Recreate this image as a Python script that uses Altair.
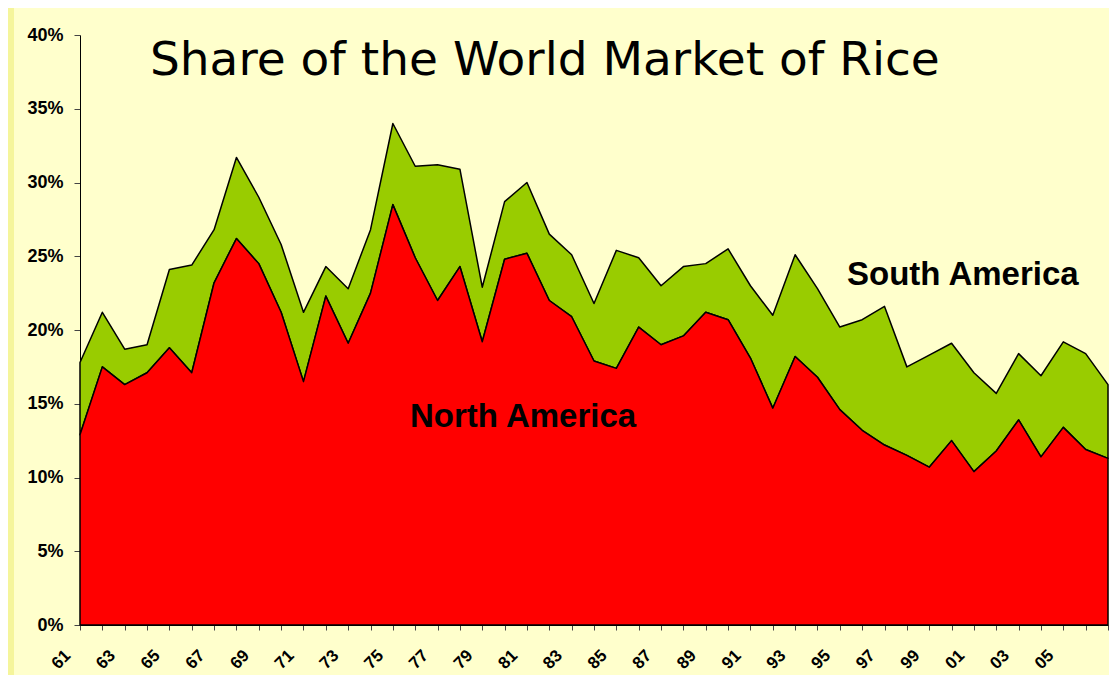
import altair as alt
import pandas as pd

# Data (percent of world rice market)
years = [1961, 1962, 1963, 1964, 1965, 1966, 1967, 1968, 1969, 1970,
         1971, 1972, 1973, 1974, 1975, 1976, 1977, 1978, 1979, 1980,
         1981, 1982, 1983, 1984, 1985, 1986, 1987, 1988, 1989, 1990,
         1991, 1992, 1993, 1994, 1995, 1996, 1997, 1998, 1999, 2000,
         2001, 2002, 2003, 2004, 2005, 2006, 2007]

north_america = [12.9, 17.5, 16.3, 17.1, 18.8, 17.1, 23.2, 26.2, 24.5, 21.2,
                 16.5, 22.3, 19.1, 22.5, 28.5, 24.9, 22.0, 24.3, 19.2, 24.8,
                 25.2, 22.0, 20.9, 17.9, 17.4, 20.2, 19.0, 19.6, 21.2, 20.7,
                 18.1, 14.7, 18.2, 16.8, 14.6, 13.2, 12.2, 11.5, 10.7, 12.5,
                 10.4, 11.8, 13.9, 11.4, 13.4, 11.9, 11.3]

south_america = [4.9, 3.7, 2.4, 1.9, 5.3, 7.3, 3.6, 5.5, 4.5, 4.6,
                 4.7, 2.0, 3.7, 4.3, 5.5, 6.2, 9.2, 6.6, 3.7, 3.9,
                 4.8, 4.5, 4.2, 3.9, 8.0, 4.7, 4.0, 4.7, 3.3, 4.8,
                 4.9, 6.3, 6.9, 6.0, 5.6, 7.5, 9.4, 6.0, 7.6, 6.6,
                 6.7, 3.9, 4.5, 5.5, 5.8, 6.5, 5.0]

# x tick labels (every second year)
label_years = [1961, 1963, 1965, 1967, 1969, 1971, 1973, 1975, 1977, 1979,
               1981, 1983, 1985, 1987, 1989, 1991, 1993, 1995, 1997, 1999,
               2001, 2003, 2005]
label_texts = ["61", "63", "65", "67", "69", "71", "73", "75", "77", "79",
               "81", "83", "85", "87", "89", "91", "93", "95", "97", "99",
               "01", "03", "05"]

y_ticks = [0, 0.05, 0.10, 0.15, 0.20, 0.25, 0.30, 0.35, 0.40]

title_text = "Share of the World Market of Rice"
north_label = "North America"
south_label = "South America"

df = pd.DataFrame({
    "year": years,
    "na": [v / 100 for v in north_america],
})
df["total"] = df["na"] + pd.Series(south_america) / 100

lab_df = pd.DataFrame({"year": label_years, "lab": label_texts})

W, H = 1028, 590

x_scale = alt.Scale(domain=[1961, 2007], nice=False, zero=False)
x_axis = alt.Axis(values=years, title=None, labels=False, tickSize=5)
y_scale = alt.Scale(domain=[0, 0.4], nice=False)
y_axis = alt.Axis(values=y_ticks, format=".0%", title=None, tickSize=6,
                  labelPadding=11, labelFontSize=18)

base = alt.Chart(df)

green = base.mark_area(color="#99CC00", stroke="black", strokeWidth=1.5, strokeJoin="round").encode(
    x=alt.X("year:Q", scale=x_scale, axis=x_axis),
    y=alt.Y("total:Q", scale=y_scale, axis=y_axis),
    y2="na:Q",
)

red = base.mark_area(color="#FF0000", stroke="black", strokeWidth=1.5, strokeJoin="round").encode(
    x=alt.X("year:Q", scale=x_scale, axis=x_axis),
    y=alt.Y("na:Q", scale=y_scale, axis=y_axis),
    y2=alt.datum(0),
)

xlabels = alt.Chart(lab_df).mark_text(
    font="Liberation Sans", fontWeight="bold", fontSize=17, angle=315,
    align="right", baseline="middle", dx=-17, color="black"
).encode(
    x=alt.X("year:Q", scale=x_scale, axis=x_axis),
    y=alt.value(H + 16),
    text="lab:N",
)

strip = alt.Chart(pd.DataFrame({"k": [1]})).mark_rect(color="#F5F59B").encode(
    x=alt.value(-72), x2=alt.value(-66), y=alt.value(-27), y2=alt.value(H + 50)
)

title = alt.Chart(pd.DataFrame({"t": [title_text]})).mark_text(
    font="DejaVu Sans", fontSize=47, align="left", baseline="alphabetic", color="black"
).encode(text="t:N", x=alt.value(70), y=alt.value(40))

na_txt = alt.Chart(pd.DataFrame({"t": [north_label]})).mark_text(
    font="Liberation Sans", fontWeight="bold", fontSize=33, align="left",
    baseline="alphabetic", color="black"
).encode(text="t:N", x=alt.value(330), y=alt.value(392))

sa_txt = alt.Chart(pd.DataFrame({"t": [south_label]})).mark_text(
    font="Liberation Sans", fontWeight="bold", fontSize=33, align="left",
    baseline="alphabetic", color="black"
).encode(text="t:N", x=alt.value(767), y=alt.value(250))

chart = alt.layer(strip, green, red, xlabels, title, na_txt, sa_txt).properties(
    width=W, height=H,
    background="#FFFFCC",
    padding={"left": 72, "top": 27, "right": 1, "bottom": 50},
    autosize=alt.AutoSizeParams(type="none"),
).configure_view(stroke=None).configure_axis(
    grid=False, domainColor="black", domainWidth=1,
    labelFont="Liberation Sans", labelFontWeight="bold",
    labelColor="black", tickColor="#444",
)

chart.save("out.html", embed_options={"renderer": "svg", "actions": False})
